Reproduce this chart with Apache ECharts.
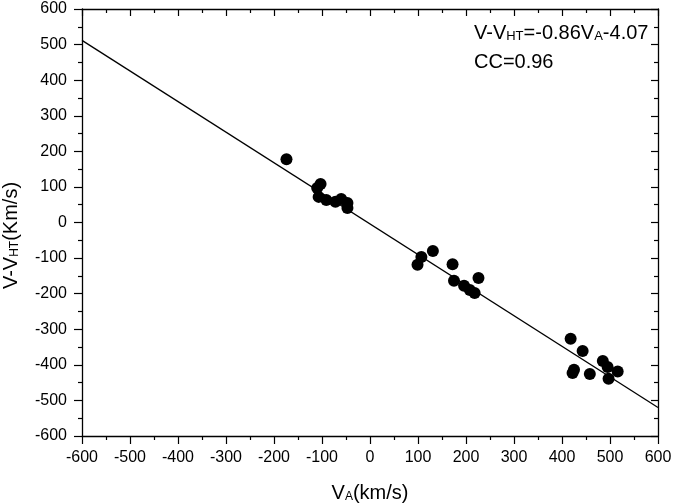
<!DOCTYPE html>
<html><head><meta charset="utf-8">
<script src="https://cdn.jsdelivr.net/npm/echarts@6/dist/echarts.min.js"></script>
<style>html,body{margin:0;padding:0;background:#fff}#c{width:675px;height:504px}</style>
</head><body><div id="c"></div>
<script>
const vA = [-174,-103,-110,-107,-91,-72,-60,-47,-47,
  131,107,99,172,175,196,208,218,226,
  418,443,485,495,516,497,458,425,422];
const vDiff = [178,108,97,72,63,58,66,55,41,
  -80,-97,-119,-117,-164,-178,-190,-198,-156,
  -327,-361,-389,-406,-419,-439,-426,-414,-423];
const fitSlope = -0.86, fitIntercept = -4.07;
const fitRangeX = [-600, 600];
const xTicks = [-600,-500,-400,-300,-200,-100,0,100,200,300,400,500,600];
const yTicks = [-600,-500,-400,-300,-200,-100,0,100,200,300,400,500,600];
const eqText = ['V-V', 'HT', '=-0.86V', 'A', '-4.07'];
const ccText = 'CC=0.96';

const FONT = 'Liberation Sans, Arial, sans-serif';
const pts = vA.map((x,i)=>[x, vDiff[i]]);
const fitLine = fitRangeX.map(x=>[x, fitSlope*x + fitIntercept]);

const axisCommon = {
  min: xTicks[0], max: xTicks[xTicks.length-1], interval: 100,
  axisLine: {onZero:false, lineStyle:{color:'#000', width:1.3}},
  splitLine: {show:false},
  minorTick: {show:true, splitNumber:2, length:4, lineStyle:{color:'#000', width:1.2}},
};
const tickStyle = {color:'#000', width:1.2};
const richMain = {fontSize:20, fontFamily:FONT, color:'#000'};
const richSub = {fontSize:12, fontFamily:FONT, color:'#000', padding:[7,0,0,0]};
const chart = echarts.init(document.getElementById('c'));
chart.setOption({
  animation:false,
  grid:{left:82, right:17, top:9, bottom:68, containLabel:false, outerBoundsMode:'none'},
  xAxis:[
    Object.assign({}, axisCommon, {type:'value', position:'bottom',
      axisTick:{length:8, inside:false, lineStyle:tickStyle},
      axisLabel:{color:'#000', fontSize:16, fontFamily:FONT, margin:14},
      name:'{a|V}{s|A}{a|(km/s)}', nameLocation:'middle', nameGap:47,
      nameTextStyle:{rich:{a:richMain, s:richSub}}
    }),
    Object.assign({}, axisCommon, {type:'value', position:'top',
      axisTick:{length:7, inside:true, lineStyle:tickStyle},
      minorTick:{show:true, splitNumber:2, length:4, lineStyle:tickStyle},
      axisLabel:{show:false}})
  ],
  yAxis:[
    Object.assign({}, axisCommon, {type:'value', position:'left',
      min: yTicks[0], max: yTicks[yTicks.length-1],
      axisTick:{length:8, inside:false, lineStyle:tickStyle},
      axisLabel:{color:'#000', fontSize:16, fontFamily:FONT, margin:15},
      name:'{a|V-V}{s|HT}{a|(Km/s)}', nameLocation:'middle', nameGap:61, nameRotate:90,
      nameTextStyle:{padding:[0,26,0,0], rich:{a:richMain, s:richSub}}
    }),
    Object.assign({}, axisCommon, {type:'value', position:'right',
      min: yTicks[0], max: yTicks[yTicks.length-1],
      axisTick:{length:7, inside:true, lineStyle:tickStyle},
      minorTick:{show:true, splitNumber:2, length:4, lineStyle:tickStyle},
      axisLabel:{show:false}})
  ],
  graphic:[
    {type:'text', left:474, top:23, style:{
      text:'{a|'+eqText[0]+'}{s|'+eqText[1]+'}{a|'+eqText[2]+'}{s|'+eqText[3]+'}{a|'+eqText[4]+'}',
      rich:{a:{fontSize:20, fontFamily:FONT, fill:'#000'},
            s:{fontSize:13, fontFamily:FONT, fill:'#000', padding:[7,0,0,0]}}}},
    {type:'text', left:474, top:52, style:{text:ccText, fontSize:20, fontFamily:FONT, fill:'#000'}}
  ],
  series:[
    {type:'line', data:fitLine, symbol:'none', lineStyle:{color:'#000', width:1.3}, z:2},
    {type:'scatter', data:pts, symbol:'circle', symbolSize:12, itemStyle:{color:'#000', opacity:1}, z:3}
  ]
});
</script></body></html>
